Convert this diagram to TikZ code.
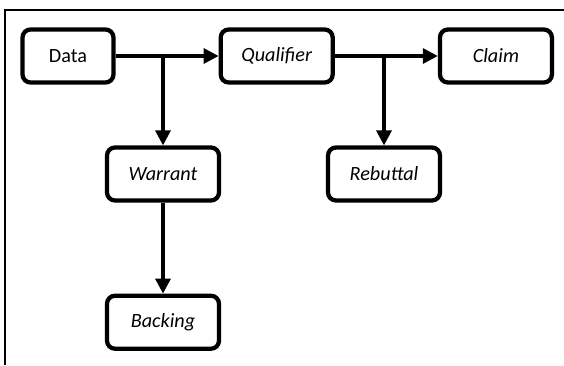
\documentclass[tikz,border=0pt]{standalone}
\usepackage{fontspec}
\setmainfont{Carlito}
\usetikzlibrary{arrows.meta, positioning}

\begin{document}
\begin{tikzpicture}[
  x=0.02cm, y=-0.02cm,
  node distance=2.06cm,
  >={Triangle[length=0.3cm, width=0.3cm]},
  box/.style={rounded corners=0.16cm, draw=black, line width=0.085cm, fill=white, align=center, minimum width=2.24cm, minimum height=1.06cm, inner sep=2pt, font=\fontsize{11.5}{13}\selectfont\itshape},
  arrow/.style={->, line width=0.065cm},
  frame/.style={line width=0.04cm}
]
\useasboundingbox (0,0) rectangle (564,365);
\draw[frame] (5,365) -- (5,10) -- (564,10);

\node[box, font=\fontsize{11.5}{13}\selectfont, minimum width=1.82cm] (data) at (68,56) {Data};
\node[box, right=of data] (qual) {Qualifier};
\node[box, right=of qual] (claim) {Claim};
\node[box] (warrant) at (163,174) {Warrant};
\node[box] (rebuttal) at (384,174) {Rebuttal};
\node[box, below=1.82cm of warrant] (backing) {Backing};

\draw[arrow] (data) -- (qual);
\draw[arrow] (data -| warrant) -- (warrant);
\draw[arrow] (qual) -- (claim);
\draw[arrow] (qual -| rebuttal) -- (rebuttal);
\draw[arrow] (warrant) -- (backing);

\end{tikzpicture}
\end{document}
